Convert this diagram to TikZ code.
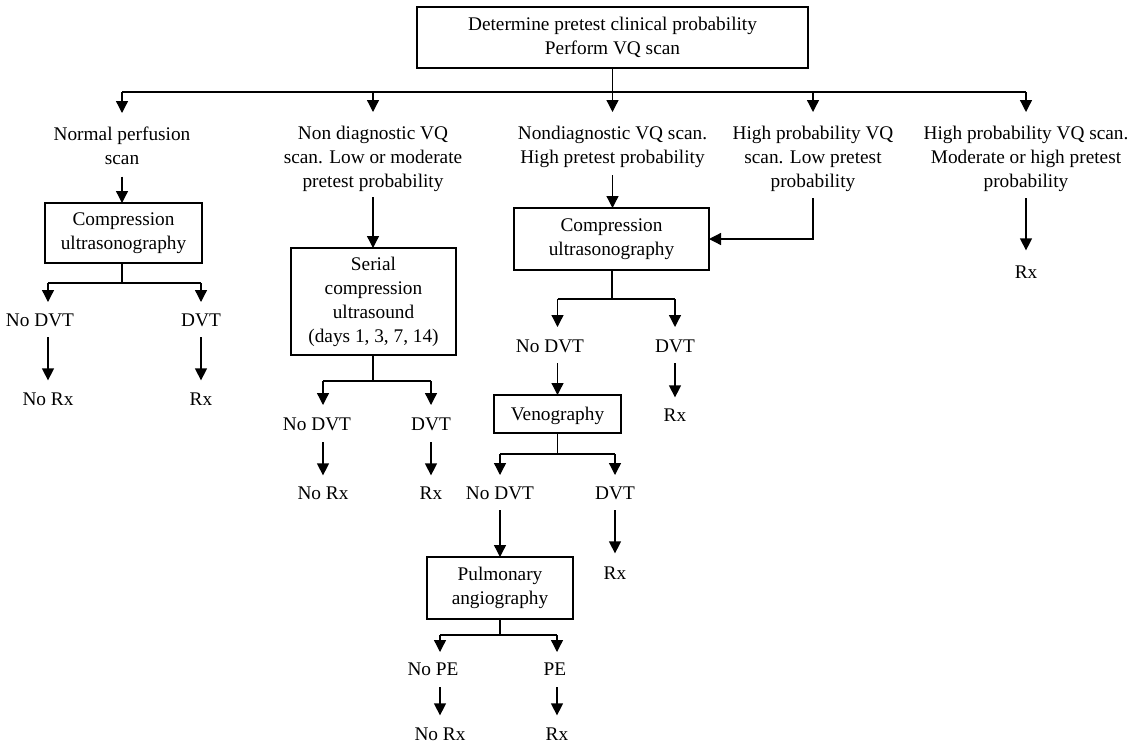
\documentclass[tikz,border=0pt]{standalone}
\usepackage{fontspec}
\setmainfont{Liberation Serif}
\usetikzlibrary{arrows.meta,calc}
\begin{document}
\begin{tikzpicture}[x=1pt,y=1pt,
  every node/.style={font=\fontsize{19.3}{24}\selectfont, inner sep=0pt, outer sep=0pt},
  lab/.style={align=center, text depth=0pt},
  box/.style={draw, line width=1.3pt, align=center},
  conn/.style={line width=1.3pt},
  arr/.style={conn, -{Triangle[width=12pt,length=12pt]}}]
\useasboundingbox (0,0) rectangle (1139,-745);

% boxes
\node[box, minimum width=391pt, minimum height=61pt] (top) at (612.5,-37.5) {Determine pretest clinical probability\\Perform VQ scan};
\node[box, minimum width=157pt, minimum height=60pt] (C1) at (123.5,-233) {Compression\\ultrasonography};
\node[box, minimum width=165pt, minimum height=107pt] (S) at (373.5,-301.5) {Serial\\compression\\ultrasound\\(days 1, 3, 7, 14)};
\node[box, minimum width=195pt, minimum height=62pt] (C2) at (611.5,-239) {Compression\\ultrasonography};
\node[box, minimum width=127pt, minimum height=38pt, text depth=0pt] (V) at (557.5,-414) {Venography};
\node[box, minimum width=146pt, minimum height=62pt] (P) at (500,-588) {Pulmonary\\angiography};

% first-level labels
\node[lab, anchor=north] (L1) at (122,-127) {Normal perfusion\\scan};
\node[lab, anchor=north] (L2) at (373,-126) {Non diagnostic VQ\\scan. Low or moderate\\pretest probability};
\node[lab, anchor=north] (L3) at (612.5,-126) {Nondiagnostic VQ scan.\\High pretest probability};
\node[lab, anchor=north] (L4) at (813,-126) {High probability VQ\\scan. Low pretest\\probability};
\node[lab, anchor=north] (L5) at (1026,-126) {High probability VQ scan.\\Moderate or high pretest\\probability};
\node[lab, anchor=base] (Rx5) at (1026,-278) {Rx};

% outcome labels
\node[lab, anchor=base] (NoDVT1) at (40,-326) {No DVT};
\node[lab, anchor=base] (DVT1) at (201,-326) {DVT};
\node[lab, anchor=base] (NoRx1) at (48,-405) {No Rx};
\node[lab, anchor=base] (Rx1) at (201,-405) {Rx};

\node[lab, anchor=base] (NoDVT2) at (317,-430) {No DVT};
\node[lab, anchor=base] (DVT2) at (431,-430) {DVT};
\node[lab, anchor=base] (NoRx2) at (323,-499) {No Rx};
\node[lab, anchor=base] (Rx2) at (431,-499) {Rx};

\node[lab, anchor=base] (NoDVT3) at (550,-352) {No DVT};
\node[lab, anchor=base] (DVT3) at (675,-352) {DVT};
\node[lab, anchor=base] (Rx3) at (675,-421) {Rx};

\node[lab, anchor=base] (NoDVT4) at (500,-499) {No DVT};
\node[lab, anchor=base] (DVT4) at (615,-499) {DVT};
\node[lab, anchor=base] (Rx4) at (615,-579) {Rx};

\node[lab, anchor=base] (NoPE) at (433,-675) {No PE};
\node[lab, anchor=base] (PE) at (555,-675) {PE};
\node[lab, anchor=base] (NoRx5) at (440,-740) {No Rx};
\node[lab, anchor=base] (Rx6) at (557,-740) {Rx};

% top bus
\coordinate (bus) at (0,-92);
\draw[conn] (L1.north |- bus) -- (L5.north |- bus);
\draw[conn] (top.south) -- (top.south |- bus);
\foreach \n in {L1,L2,L3,L4,L5} \draw[arr] (\n.north |- bus) -- ([yshift=14pt]\n.north);

% first-level connectors
\draw[arr] ([yshift=-12pt]L1.south) -- (L1.south |- C1.north);
\draw[arr] ([yshift=-10pt]L2.south) -- (L2.south |- S.north);
\draw[arr] ([yshift=-12pt]L3.south) -- (L3.south |- C2.north);
\draw[arr] ([yshift=-11pt]L4.south) |- (C2.east);
\draw[arr] ([yshift=-11pt]L5.south) -- ([yshift=15pt]Rx5.north);

% C1 branch
\coordinate (j1) at (122,-283);
\draw[conn] (C1.south -| j1) -- (j1);
\draw[conn] (j1 -| NoRx1) -- (j1 -| Rx1);
\draw[arr] (j1 -| NoRx1) -- ([yshift=24pt]NoDVT1.base -| NoRx1);
\draw[arr] (j1 -| Rx1) -- ([yshift=24pt]DVT1.base -| Rx1);
\draw[arr] ([yshift=-11pt]NoDVT1.base -| NoRx1) -- ([yshift=12pt]NoRx1.north);
\draw[arr] ([yshift=-11pt]DVT1.base -| Rx1) -- ([yshift=12pt]Rx1.north);

% Serial branch
\coordinate (j2) at (373,-381);
\draw[conn] (S.south -| j2) -- (j2);
\draw[conn] (j2 -| NoRx2) -- (j2 -| Rx2);
\draw[arr] (j2 -| NoRx2) -- ([yshift=25pt]NoDVT2.base -| NoRx2);
\draw[arr] (j2 -| Rx2) -- ([yshift=25pt]DVT2.base -| Rx2);
\draw[arr] ([yshift=-12pt]NoDVT2.base -| NoRx2) -- ([yshift=11pt]NoRx2.north);
\draw[arr] ([yshift=-12pt]DVT2.base -| Rx2) -- ([yshift=11pt]Rx2.north);

% C2 branch
\coordinate (j3) at (612,-299);
\draw[conn] (C2.south -| j3) -- (j3);
\draw[conn] (j3 -| V) -- (j3 -| Rx3);
\draw[arr] (j3 -| V) -- ([yshift=25pt]NoDVT3.base -| V);
\draw[arr] (j3 -| Rx3) -- ([yshift=25pt]DVT3.base -| Rx3);
\draw[arr] ([yshift=-11pt]NoDVT3.base -| V.north) -- (V.north);
\draw[arr] ([yshift=-11pt]DVT3.base) -- ([yshift=11pt]Rx3.north);

% Venography branch
\coordinate (j4) at (557.5,-454);
\draw[conn] (V.south) -- (j4);
\draw[conn] (j4 -| NoDVT4) -- (j4 -| Rx4);
\draw[arr] (j4 -| NoDVT4) -- ([yshift=24pt]NoDVT4.base);
\draw[arr] (j4 -| Rx4) -- ([yshift=24pt]DVT4.base -| Rx4);
\draw[arr] ([yshift=-11pt]NoDVT4.base) -- (NoDVT4.base |- P.north);
\draw[arr] ([yshift=-11pt]DVT4.base) -- ([yshift=13pt]Rx4.north);

% Pulmonary branch
\coordinate (j5) at (500,-635);
\draw[conn] (P.south) -- (j5);
\draw[conn] (j5 -| NoRx5) -- (j5 -| Rx6);
\draw[arr] (j5 -| NoRx5) -- ([yshift=23pt]NoPE.base -| NoRx5);
\draw[arr] (j5 -| Rx6) -- ([yshift=23pt]PE.base -| Rx6);
\draw[arr] ([yshift=-12pt]NoPE.base -| NoRx5) -- ([yshift=12pt]NoRx5.north);
\draw[arr] ([yshift=-12pt]PE.base -| Rx6) -- ([yshift=12pt]Rx6.north);
\end{tikzpicture}
\end{document}
